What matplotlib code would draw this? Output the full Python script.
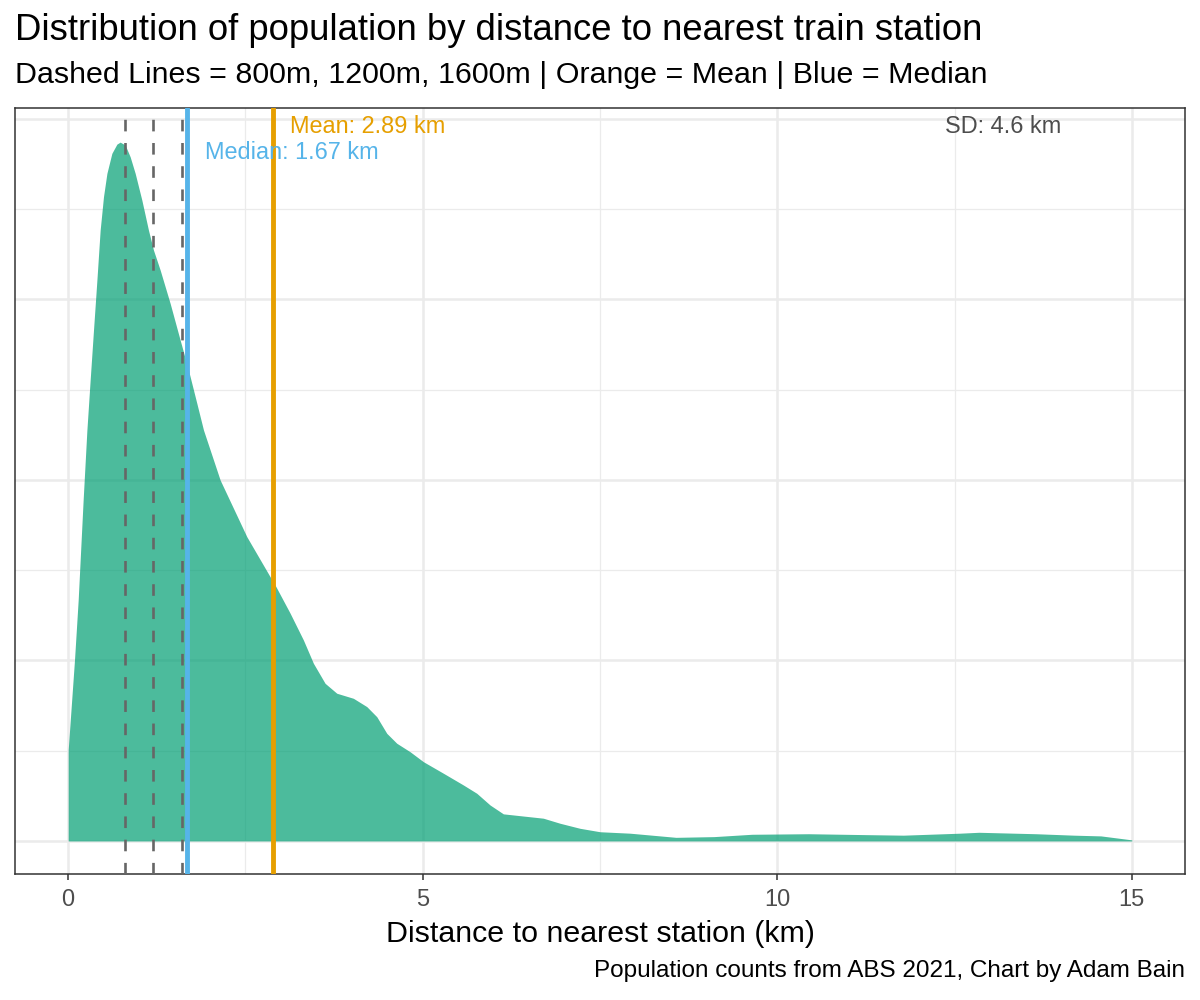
import matplotlib
matplotlib.use("Agg")
import matplotlib.pyplot as plt
from matplotlib.ticker import MultipleLocator

plt.rcParams['font.family'] = ['Liberation Sans', 'DejaVu Sans']

# Density curve (distance km, density)
distance_km = [0.0, 0.0, 0.089, 0.141, 0.211, 0.264, 0.310, 0.357, 0.405, 0.451, 0.498,
               0.546, 0.616, 0.687, 0.733, 0.804, 0.874, 0.945, 1.039, 1.132, 1.203,
               1.297, 1.438, 1.579, 1.696, 1.814, 1.908, 2.143, 2.519, 2.848, 2.918,
               3.130, 3.317, 3.458, 3.623, 3.788, 4.022, 4.211, 4.352, 4.493, 4.634,
               4.822, 5.009, 5.291, 5.573, 5.762, 5.950, 6.137, 6.419, 6.701, 6.936,
               7.218, 7.500, 7.923, 8.346, 8.572, 9.108, 9.643, 10.441, 11.245, 11.779,
               12.576, 12.843, 13.647, 14.183, 14.563, 15.0]
density = [0.0, 0.0504, 0.1002, 0.1334, 0.1888, 0.2276, 0.2553, 0.2829, 0.3106, 0.3383, 0.3568,
           0.3697, 0.3808, 0.3859, 0.3870, 0.3854, 0.3789, 0.3697, 0.3549, 0.3383, 0.3272,
           0.3162, 0.2977, 0.2774, 0.2608, 0.2424, 0.2276, 0.1999, 0.1685, 0.1463, 0.1417,
           0.1261, 0.1113, 0.0984, 0.0873, 0.0818, 0.0790, 0.0744, 0.0688, 0.0596, 0.0541,
           0.0494, 0.0439, 0.0375, 0.0310, 0.0264, 0.0199, 0.0150, 0.0138, 0.0126, 0.0098,
           0.0070, 0.0051, 0.0043, 0.0028, 0.0020, 0.0024, 0.0037, 0.0040, 0.0035, 0.0032,
           0.0043, 0.0048, 0.0040, 0.0032, 0.0028, 0.0006]

walk_thresholds_km = [0.8, 1.2, 1.6]
mean_km = 2.89
median_km = 1.67
sd_km = 4.6

title = "Distribution of population by distance to nearest train station"
subtitle = "Dashed Lines = 800m, 1200m, 1600m | Orange = Mean | Blue = Median"
xlabel = "Distance to nearest station (km)"
caption = "Population counts from ABS 2021, Chart by Adam Bain"
x_ticks = [0, 5, 10, 15]

fig = plt.figure(figsize=(12, 10), dpi=100)
ax = fig.add_axes([0.0125, 0.126, 0.975, 0.766])

# grid
ax.set_xlim(-0.75, 15.75)
ax.set_ylim(-0.0183, 0.4059)
ax.xaxis.set_major_locator(MultipleLocator(5))
ax.xaxis.set_minor_locator(MultipleLocator(2.5))
ax.yaxis.set_major_locator(MultipleLocator(0.1))
ax.yaxis.set_minor_locator(MultipleLocator(0.05))
ax.grid(which='major', color='#EBEBEB', lw=1.8, zorder=0)
ax.grid(which='minor', color='#EBEBEB', lw=0.9, zorder=0)
ax.set_axisbelow(True)

ax.fill_between(distance_km, 0, density, color='#009E73', alpha=0.7, lw=0, zorder=2)

for t in walk_thresholds_km:
    ax.axvline(t, color='#666666', lw=1.9, linestyle=(0, (4.4, 4.4)), zorder=3)
ax.axvline(median_km, color='#56B4E9', lw=3.5, zorder=3)
ax.axvline(mean_km, color='#E69F00', lw=3.5, zorder=3)

ax.text(mean_km + 0.24, 0.3955, f"Mean: {mean_km:.2f} km", color='#E69F00',
        fontsize=16.9, ha='left', va='center', zorder=4)
ax.text(median_km + 0.26, 0.381, f"Median: {median_km:.2f} km", color='#56B4E9',
        fontsize=16.9, ha='left', va='center', zorder=4)
ax.text(12.36, 0.3955, f"SD: {sd_km} km", color='#4D4D4D',
        fontsize=16.9, ha='left', va='center', zorder=4)

ax.set_xticks(x_ticks)
ax.set_xticklabels([str(v) for v in x_ticks])
ax.tick_params(axis='x', which='major', length=4, width=1.1, color='#333333',
               labelcolor='#4D4D4D', labelsize=17, pad=7)
ax.tick_params(axis='x', which='minor', length=0)
ax.tick_params(axis='y', which='both', length=0, labelleft=False)
for s in ax.spines.values():
    s.set_color('#333333')
    s.set_linewidth(1.1)

ax.set_xlabel(xlabel, fontsize=21.9, color='black', labelpad=6)

fig.text(15/1200, 1 - 31/1000, title, fontsize=26.3, ha='left', va='center', color='black')
fig.text(15/1200, 1 - 75/1000, subtitle, fontsize=21.9, ha='left', va='center', color='black')
fig.text(1185/1200, 1 - 971/1000, caption, fontsize=17.5, ha='right', va='center', color='black')

fig.savefig('out.png', dpi=100)
